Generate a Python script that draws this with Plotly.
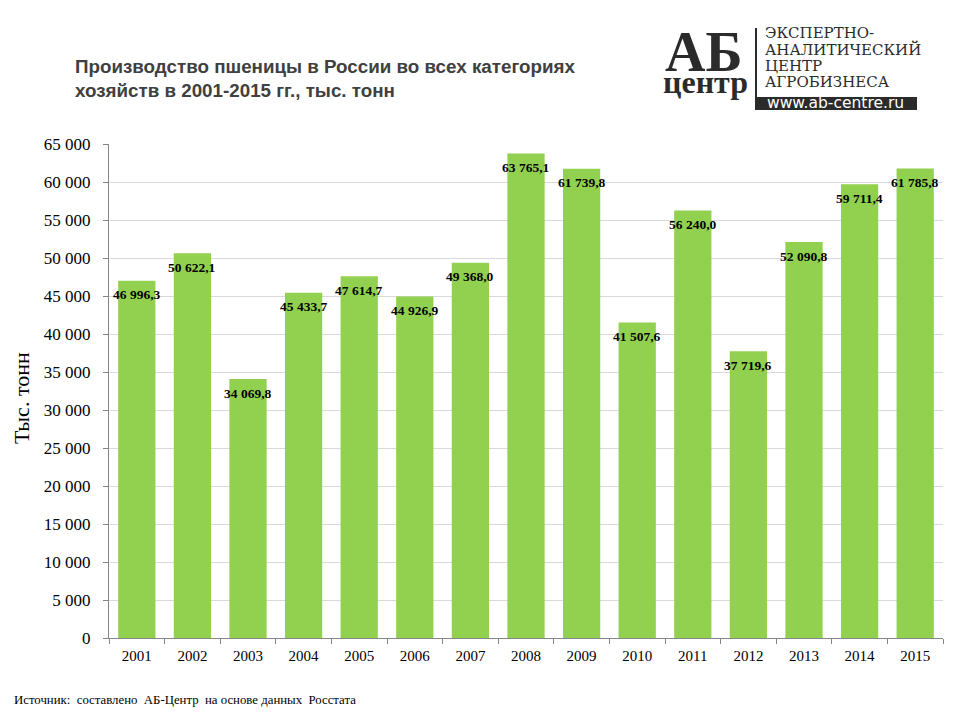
import plotly.graph_objects as go

years = ["2001", "2002", "2003", "2004", "2005", "2006", "2007", "2008",
         "2009", "2010", "2011", "2012", "2013", "2014", "2015"]
values = [46996.3, 50622.1, 34069.8, 45433.7, 47614.7, 44926.9, 49368.0, 63765.1,
          61739.8, 41507.6, 56240.0, 37719.6, 52090.8, 59711.4, 61785.8]
tick_vals = list(range(0, 65001, 5000))
tick_text = ["0"] + [f"{v // 1000} 000" for v in tick_vals[1:]]
logo_lines = ["ЭКСПЕРТНО-", "АНАЛИТИЧЕСКИЙ", "ЦЕНТР", "АГРОБИЗНЕСА"]


def fmt(v):
    return f"{v:,.1f}".replace(",", " ").replace(".", ",")


W, H = 960, 720
ML, MR, MT, MB = 109, 17, 144, 82


def px(x):
    return (x - ML) / (W - ML - MR)


def py(y):
    return (H - MB - y) / (H - MT - MB)


SERIF = "Liberation Serif, Times New Roman, serif"
LOGO = "#2b2b2b"

fig = go.Figure()
fig.add_trace(go.Bar(
    x=years, y=values, marker=dict(color="#92D050", line=dict(width=0)),
    hoverinfo="skip", showlegend=False,
))

# value labels (x given as category index)
for i, v in enumerate(values):
    fig.add_annotation(x=i, y=v, xref="x", yref="y", text=f"<b>{fmt(v)}</b>", showarrow=False,
                       yanchor="middle", yshift=-14,
                       font=dict(family=SERIF, size=13.5, color="#000000"))

fig.update_layout(
    width=W, height=H,
    paper_bgcolor="white", plot_bgcolor="white",
    margin=dict(l=ML, r=MR, t=MT, b=MB),
    bargap=0.33,
    xaxis=dict(
        type="category", showgrid=False, showline=True, linecolor="#868686", linewidth=1,
        ticks="outside", tickson="boundaries", ticklen=5, tickcolor="#868686",
        tickfont=dict(family=SERIF, size=15, color="#000000"), tickangle=0, automargin=False,
        ticklabelstandoff=4,
    ),
    yaxis=dict(
        range=[0, 65000], tickvals=tick_vals, ticktext=tick_text,
        showgrid=True, gridcolor="#D9D9D9", gridwidth=1, zeroline=False,
        showline=True, linecolor="#868686", linewidth=1,
        ticks="outside", ticklen=5, tickcolor="#868686", automargin=False,
        ticklabelstandoff=9,
        tickfont=dict(family=SERIF, size=17, color="#000000"),
    ),
)

# Y axis title
fig.add_annotation(xref="paper", yref="paper", x=px(21), y=py(398), xanchor="center", yanchor="middle",
                   textangle=-90, showarrow=False, text="Тыс. тонн",
                   font=dict(family=SERIF, size=22, color="#000000"))

# Title
fig.add_annotation(xref="paper", yref="paper", x=px(73), y=py(54), xanchor="left", yanchor="top",
                   align="left", showarrow=False,
                   text="<b>Производство пшеницы в России во всех категориях<br>хозяйств в 2001-2015 гг., тыс. тонн</b>",
                   font=dict(family="Liberation Sans, Arial, sans-serif", size=18.8, color="#404040"))

# Footer
fig.add_annotation(xref="paper", yref="paper", x=px(12), y=py(700), xanchor="left", yanchor="middle",
                   showarrow=False,
                   text="Источник:  составлено  АБ-Центр  на основе данных  Росстата",
                   font=dict(family=SERIF, size=12.8, color="#000000"))

# Logo
fig.add_annotation(xref="paper", yref="paper", x=px(703), y=py(52), xanchor="center", yanchor="middle",
                   showarrow=False, text="<b>АБ</b>",
                   font=dict(family=SERIF, size=56, color=LOGO))
fig.add_annotation(xref="paper", yref="paper", x=px(705), y=py(82), xanchor="center", yanchor="middle",
                   showarrow=False, text="<b>центр</b>",
                   font=dict(family=SERIF, size=32, color=LOGO))
fig.add_shape(type="line", xref="paper", yref="paper", x0=px(756), x1=px(756), y0=py(110), y1=py(28),
              line=dict(color=LOGO, width=2))
for i, t in enumerate(logo_lines):
    fig.add_annotation(xref="paper", yref="paper", x=px(763), y=py(33 + 16.3 * i), xanchor="left",
                       yanchor="middle", showarrow=False, text=t,
                       font=dict(family="DejaVu Serif, serif", size=15, color=LOGO))
fig.add_shape(type="rect", xref="paper", yref="paper", x0=px(755), x1=px(917), y0=py(110), y1=py(97),
              fillcolor=LOGO, line=dict(width=0))
fig.add_annotation(xref="paper", yref="paper", x=px(835), y=py(103.5), xanchor="center", yanchor="middle",
                   showarrow=False, text="www.ab-centre.ru",
                   font=dict(family="DejaVu Sans, sans-serif", size=15.5, color="#ffffff"))

fig.write_html("out.html", config={"displayModeBar": False},
               post_script="document.body.style.margin='0';")
